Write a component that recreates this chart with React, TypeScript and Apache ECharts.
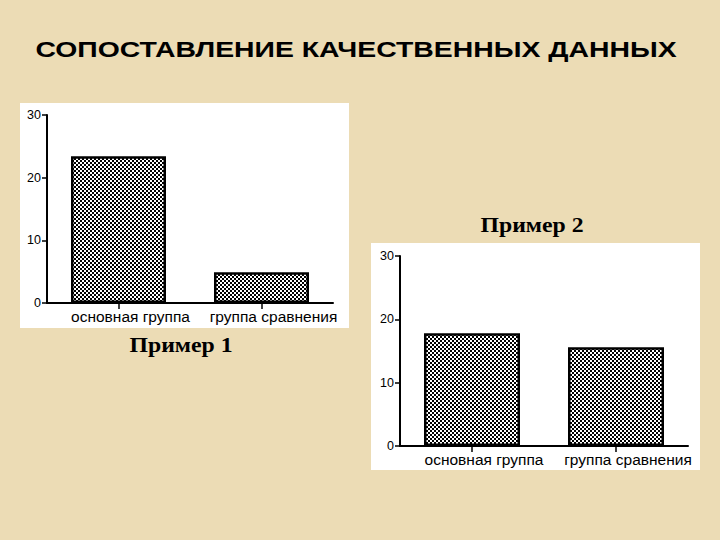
import React, { useEffect, useRef } from "react";
import * as echarts from "echarts";

const title = "СОПОСТАВЛЕНИЕ КАЧЕСТВЕННЫХ ДАННЫХ";
const categories = ["основная группа", "группа сравнения"];
const example1Values = [23.4, 4.9];
const example2Values = [17.8, 15.6];
const yTicks = { min: 0, max: 30, interval: 10 };
const captions = ["Пример 1", "Пример 2"];

function makePattern(): string {
  const c = document.createElement("canvas");
  c.width = 4;
  c.height = 4;
  const ctx = c.getContext("2d")!;
  ctx.fillStyle = "#ffffff";
  ctx.fillRect(0, 0, 4, 4);
  ctx.fillStyle = "#000000";
  ctx.fillRect(0, 0, 2, 2);
  ctx.fillRect(2, 2, 2, 2);
  return c.toDataURL();
}

export default function App() {
  const ref = useRef<HTMLDivElement>(null);
  useEffect(() => {
    const chart = echarts.init(ref.current!, null, { renderer: "svg" });
    const pattern = makePattern();
    const barStyle = {
      color: { image: pattern, repeat: "repeat" } as any,
      borderColor: "#000",
      borderWidth: 2.5,
    };
    const xAxisCommon = {
      type: "category" as const,
      data: categories,
      axisLine: { lineStyle: { color: "#000", width: 2 } },
      axisTick: { show: true, alignWithLabel: true, length: 6, lineStyle: { color: "#000", width: 1.5 } },
      axisLabel: {
        color: "#000",
        fontFamily: "Liberation Sans, Arial",
        fontSize: 15.5,
        margin: 5,
        interval: 0,
        hideOverlap: false,
        padding: [0, 0, 0, 24],
      },
    };
    const yAxisCommon = {
      type: "value" as const,
      min: yTicks.min,
      max: yTicks.max,
      interval: yTicks.interval,
      splitLine: { show: false },
      axisLine: { show: true, lineStyle: { color: "#000", width: 2 } },
      axisTick: { show: true, length: 5, lineStyle: { color: "#000", width: 1.5 } },
      axisLabel: { color: "#000", fontFamily: "Liberation Sans, Arial", fontSize: 12.5, margin: 6 },
    };
    chart.setOption({
      animation: false,
      backgroundColor: "#ecdcb5",
      graphic: [
        { type: "rect", shape: { x: 20, y: 103, width: 329, height: 225 }, style: { fill: "#ffffff" }, z: -10 },
        { type: "rect", shape: { x: 371, y: 243, width: 329, height: 227 }, style: { fill: "#ffffff" }, z: -10 },
        {
          type: "text",
          x: 356,
          y: 49.5,
          scaleX: 1.29,
          style: { text: title, fill: "#000", font: "bold 22px 'Liberation Sans', Arial", align: "center", verticalAlign: "middle" },
        },
        {
          type: "text",
          x: 181,
          y: 345,
          scaleX: 1.08,
          style: { text: captions[0], fill: "#000", font: "bold 22px 'Liberation Serif', 'Times New Roman'", align: "center", verticalAlign: "middle" },
        },
        {
          type: "text",
          x: 532,
          y: 225,
          scaleX: 1.08,
          style: { text: captions[1], fill: "#000", font: "bold 22px 'Liberation Serif', 'Times New Roman'", align: "center", verticalAlign: "middle" },
        },
      ],
      grid: [
        { left: 47, right: 387, top: 115, bottom: 237 },
        { left: 400, right: 32, top: 256, bottom: 94 },
      ],
      xAxis: [
        { ...xAxisCommon, gridIndex: 0 },
        { ...xAxisCommon, gridIndex: 1 },
      ],
      yAxis: [
        { ...yAxisCommon, gridIndex: 0 },
        { ...yAxisCommon, gridIndex: 1 },
      ],
      series: [
        { type: "bar", xAxisIndex: 0, yAxisIndex: 0, data: example1Values, barWidth: 95, itemStyle: barStyle },
        { type: "bar", xAxisIndex: 1, yAxisIndex: 1, data: example2Values, barWidth: 96, itemStyle: barStyle },
      ],
    });
    return () => chart.dispose();
  }, []);
  return <div ref={ref} style={{ position: "fixed", left: 0, top: 0, width: 720, height: 540 }} />;
}
